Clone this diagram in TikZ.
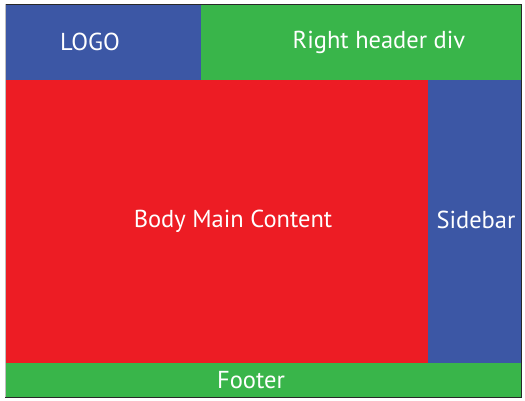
\documentclass[tikz,border=0pt]{standalone}
\usepackage{fontspec}
\setmainfont{PT Sans}
\begin{document}
\begin{tikzpicture}[x=1pt,y=-1pt]
    \definecolor{mylogo}{RGB}{60,87,165}
    \definecolor{myhead}{RGB}{57,181,74}
    \definecolor{mybody}{RGB}{237,28,36}
    \definecolor{myframe}{RGB}{40,40,40}
    \tikzset{
        region/.style={draw=none, inner sep=0pt, outer sep=0pt, anchor=north west,
            text=white, font=\fontsize{24.5}{28}\selectfont},
    }

    \useasboundingbox (0,0) rectangle (525,400);
    \fill[white] (0,0) rectangle (525,400);

    \node[region, fill=mylogo, minimum width=196pt, minimum height=76pt] (logo) at (5,4) {};
    \node[region, fill=myhead, minimum width=320pt, minimum height=76pt] (header) at (201,4) {};
    \node[region, fill=mybody, minimum width=423pt, minimum height=283pt] (body) at (5,80) {};
    \node[region, fill=mylogo, minimum width=93pt, minimum height=283pt] (sidebar) at (428,80) {};
    \node[region, fill=myhead, minimum width=516pt, minimum height=34pt] (footer) at (5,363) {};

    \node[region, anchor=center] at (90,42) {LOGO};
    \node[region, anchor=center] at (379,42) {Right header div};
    \node[region, anchor=center] at (233,221) {Body Main Content};
    \node[region, anchor=center] at (476,220) {Sidebar};
    \node[region, anchor=center] at (251,380) {Footer};

    \draw[myframe, line width=1pt] (logo.north west) -- (header.north east) -- (footer.south east) -- (footer.south west);
    \draw[gray!50, line width=1pt] (logo.north west) -- (footer.south west);
\end{tikzpicture}
\end{document}
